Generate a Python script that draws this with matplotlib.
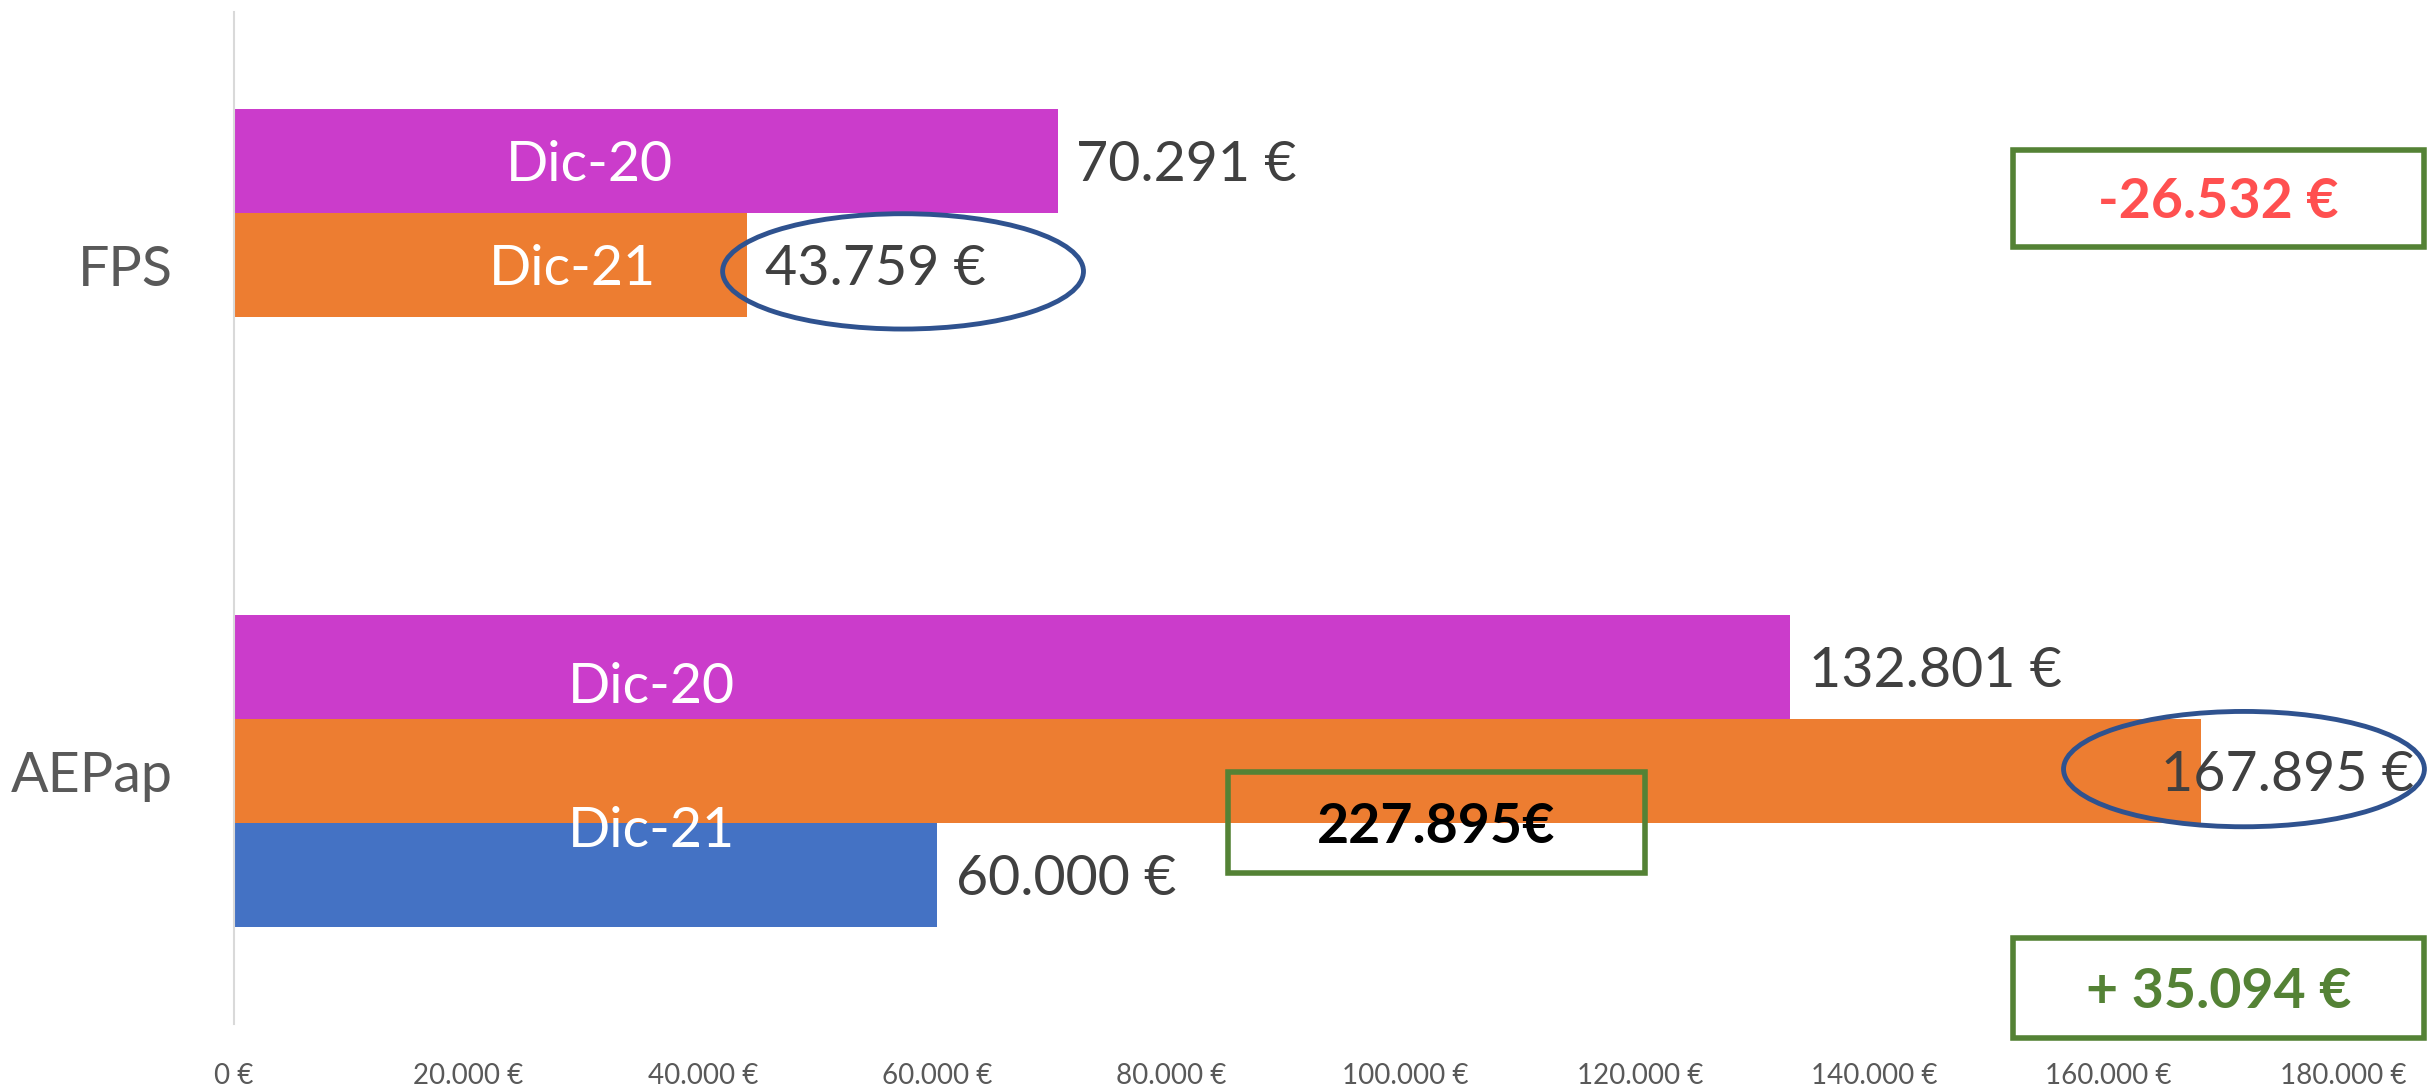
import matplotlib
matplotlib.use('Agg')
import matplotlib.pyplot as plt
import numpy as np
from matplotlib.patches import Ellipse, Rectangle
from matplotlib.ticker import FuncFormatter

plt.rcParams['font.family'] = ['Lato', 'DejaVu Sans']

# ── data ──────────────────────────────────────────────────────────────────────
categories = ['FPS', 'AEPap']
dic20 = [70291, 132801]
dic21 = [43759, 167895]
extra = [0, 60000]          # third (blue) series, AEPap only
series_names = ['Dic-20', 'Dic-21']
x_ticks = [0, 20000, 40000, 60000, 80000, 100000, 120000, 140000, 160000, 180000]

diff_fps = '-26.532 €'
diff_aepap = '+ 35.094 €'
total_aepap = '227.895€'

COLOR_20 = '#CB3CCB'
COLOR_21 = '#ED7D31'
COLOR_EX = '#4472C4'
COLOR_BOX = '#548235'
COLOR_RING = '#2F528F'
COLOR_TXT = '#404040'
COLOR_AX = '#595959'


def eur(v):
    return f'{v:,.0f} €'.replace(',', '.')


fig = plt.figure(figsize=(24.33, 10.88), dpi=100)
ax = fig.add_axes([0.0962, 0.0588, 0.8668, 0.9298])

y = np.arange(len(categories))
h = 0.206
ax.barh(y - h, dic20, height=h, color=COLOR_20)
ax.barh(y, dic21, height=h, color=COLOR_21)
ax.barh(y + h, extra, height=h, color=COLOR_EX)

ax.set_xlim(0, 180000)
ax.set_ylim(1.5, -0.5)

# value labels
pad = 1600
dy = 0.009
for i in range(len(categories)):
    ax.text(dic20[i] + pad, y[i] - h + dy, eur(dic20[i]), fontsize=40,
            color=COLOR_TXT, va='center', ha='left')
    # the big orange label is pulled inside the bar end (as in the original)
    x21 = dic21[i] + pad if dic21[i] < 150000 else dic21[i] - 3400
    ax.text(x21, y[i] + dy, eur(dic21[i]), fontsize=40, color=COLOR_TXT,
            va='center', ha='left', clip_on=False)
    if extra[i] > 0:
        ax.text(extra[i] + pad, y[i] + h + dy, eur(extra[i]), fontsize=40,
                color=COLOR_TXT, va='center', ha='left')

# series name labels on the bars
name_pos = [(30350, -0.197, 'Dic-20'), (28900, 0.008, 'Dic-21'),
            (35650, 0.834, 'Dic-20'), (35650, 1.120, 'Dic-21')]
for xx, yy, s in name_pos:
    ax.text(xx, yy, s, fontsize=40, color='white', ha='center', va='center')

# ellipses around the Dic-21 values
for cx, cy in [(57100, 0.012), (171550, 0.996)]:
    ax.add_patch(Ellipse((cx, cy), 30800, 0.228, fill=False,
                         edgecolor=COLOR_RING, linewidth=3.5, clip_on=False,
                         zorder=5))

# green boxes
boxes = [((151830, -0.228), 35080, 0.191, diff_fps, '#FF5050'),
         ((151830, 1.330), 35080, 0.197, diff_aepap, COLOR_BOX),
         ((84835, 1.002), 35595, 0.200, total_aepap, 'black')]
for (bx, by), bw, bh, s, c in boxes:
    ax.add_patch(Rectangle((bx, by), bw, bh, fill=False, edgecolor=COLOR_BOX,
                           linewidth=4, clip_on=False, zorder=5))
    ax.text(bx + bw / 2, by + bh / 2 + 0.008, s, fontsize=40, fontweight='bold',
            color=c, ha='center', va='center', clip_on=False, zorder=6)

# axes styling
ax.set_xticks(x_ticks)
ax.xaxis.set_major_formatter(FuncFormatter(lambda v, p: eur(v)))
ax.tick_params(axis='x', length=0, pad=28, labelsize=20, labelcolor=COLOR_AX)
ax.set_yticks(y)
ax.set_yticklabels(categories)
ax.tick_params(axis='y', length=0, pad=44, labelsize=40, labelcolor=COLOR_AX)
for side in ['top', 'right', 'bottom']:
    ax.spines[side].set_visible(False)
ax.spines['left'].set_color('#D9D9D9')
ax.spines['left'].set_linewidth(1.5)

fig.savefig('out.png', dpi=100, facecolor='white')
